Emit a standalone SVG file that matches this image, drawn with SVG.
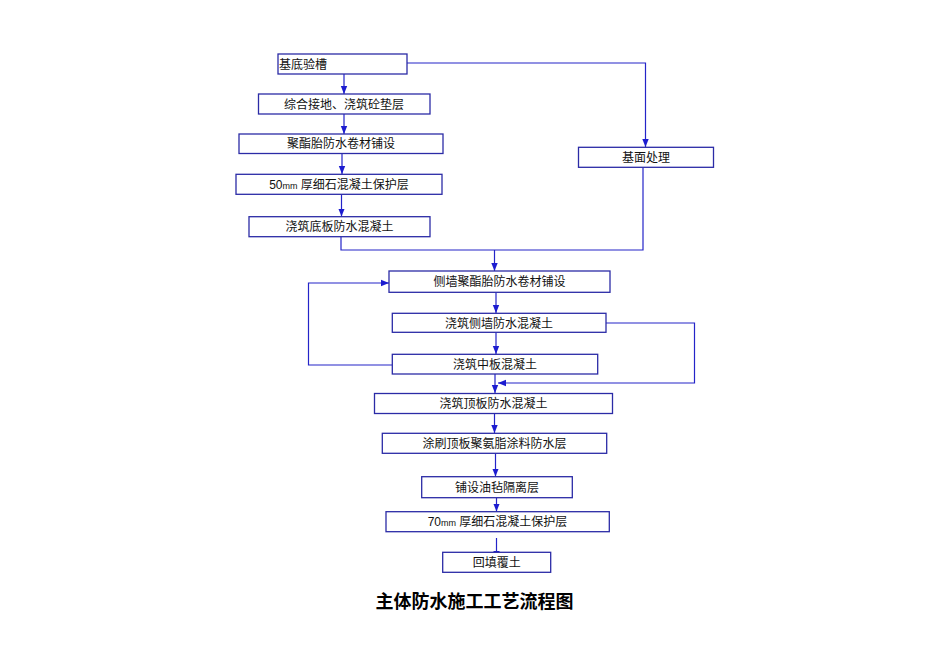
<svg xmlns="http://www.w3.org/2000/svg" width="950" height="672" viewBox="0 0 950 672">
<style>
.b{fill:#fff;stroke:#2b2ba6;stroke-width:1.3}
.t{font-family:"Liberation Sans","Noto Sans CJK SC",sans-serif;font-size:12px;fill:#111;text-anchor:middle}
.m{font-size:9px}
.c{fill:none;stroke:#2424c8;stroke-width:1.2}
.ti{font-family:"Noto Sans CJK SC","Liberation Sans",sans-serif;font-size:18px;font-weight:bold;fill:#000;text-anchor:middle}
</style>
<defs>
<marker id="a" markerUnits="userSpaceOnUse" markerWidth="8" markerHeight="8" viewBox="0 0 8 8" refX="8" refY="4" orient="auto">
<path d="M0,0.8 L8,4 L0,7.2 Z" fill="#1c1cd0"/>
</marker>
</defs>
<rect width="950" height="672" fill="#fff"/>
<g id="connectors">
<path class="c" d="M344,74 V94" marker-end="url(#a)"/>
<path class="c" d="M344,114 V134" marker-end="url(#a)"/>
<path class="c" d="M342,153.5 V174" marker-end="url(#a)"/>
<path class="c" d="M341.5,194.5 V216.5" marker-end="url(#a)"/>
<path class="c" d="M407,63 H645.5 V147" marker-end="url(#a)"/>
<path class="c" d="M643,167.5 V250 H341 V237"/>
<path class="c" d="M494.5,250 V271" marker-end="url(#a)"/>
<path class="c" d="M496,292.5 V313" marker-end="url(#a)"/>
<path class="c" d="M496,332.5 V354" marker-end="url(#a)"/>
<path class="c" d="M392,365 H308.5 V283 H389" marker-end="url(#a)"/>
<path class="c" d="M606,323 H694.5 V383 H498" marker-end="url(#a)"/>
<path class="c" d="M495,374 V393" marker-end="url(#a)"/>
<path class="c" d="M494.5,413.5 V433" marker-end="url(#a)"/>
<path class="c" d="M495.5,453.5 V476.5" marker-end="url(#a)"/>
<path class="c" d="M496.5,498 V511.5" marker-end="url(#a)"/>
<path class="c" d="M496.5,538 V559" marker-end="url(#a)"/>
</g>
<g id="n1"><rect class="b" x="278" y="54" width="129" height="20"/><text class="t" x="279" y="68.5" style="text-anchor:start">基底验槽</text></g>
<g id="n2"><rect class="b" x="258.5" y="94" width="171.5" height="20"/><text class="t" x="344" y="108.5">综合接地、浇筑砼垫层</text></g>
<g id="n3"><rect class="b" x="239" y="134" width="204" height="19.5"/><text class="t" x="341" y="148">聚酯胎防水卷材铺设</text></g>
<g id="n4"><rect class="b" x="236" y="174.3" width="206" height="20"/><text class="t" x="339" y="188.5">50<tspan class="m">mm</tspan> 厚细石混凝土保护层</text></g>
<g id="n5"><rect class="b" x="249" y="216.7" width="181" height="20"/><text class="t" x="339.5" y="231">浇筑底板防水混凝土</text></g>
<g id="n6"><rect class="b" x="578.5" y="147.3" width="135" height="20"/><text class="t" x="646" y="161.5">基面处理</text></g>
<g id="n7"><rect class="b" x="389" y="271" width="221" height="21.3"/><text class="t" x="499.5" y="286">侧墙聚酯胎防水卷材铺设</text></g>
<g id="n8"><rect class="b" x="392.3" y="313.3" width="213.7" height="19"/><text class="t" x="499" y="327.5">浇筑侧墙防水混凝土</text></g>
<g id="n9"><rect class="b" x="392.3" y="354.3" width="205.4" height="19.7"/><text class="t" x="495" y="368.5">浇筑中板混凝土</text></g>
<g id="n10"><rect class="b" x="374.5" y="393.5" width="238" height="20"/><text class="t" x="493.5" y="407.5">浇筑顶板防水混凝土</text></g>
<g id="n11"><rect class="b" x="382.3" y="433.3" width="224.4" height="20"/><text class="t" x="494.5" y="447.5">涂刷顶板聚氨脂涂料防水层</text></g>
<g id="n12"><rect class="b" x="421.7" y="476.7" width="150.6" height="21"/><text class="t" x="497" y="491.5">铺设油毡隔离层</text></g>
<g id="n13"><rect class="b" x="386" y="511.7" width="223.3" height="20"/><text class="t" x="497.5" y="525.5">70<tspan class="m">mm</tspan> 厚细石混凝土保护层</text></g>
<g id="n14"><rect class="b" x="442.7" y="552.3" width="108" height="20"/><text class="t" x="496.7" y="566.5">回填覆土</text></g>
<text class="ti" x="474.5" y="607.5">主体防水施工工艺流程图</text>
</svg>
